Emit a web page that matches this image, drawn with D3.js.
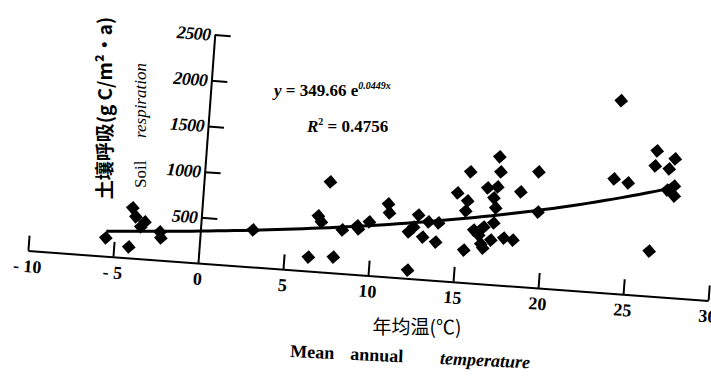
<!DOCTYPE html>
<html>
<head>
<meta charset="utf-8">
<script src="https://cdn.jsdelivr.net/npm/d3@7"></script>
<style>
	body {margin: 0; background: #fff;}
	svg {display: block;}
</style>
</head>
<body>
<div id="chart"></div>
<script>
// Mean annual temperature (°C) and soil respiration (g C/m²·a)
const temperature = [-5.5, -4.12, -4.05, -3.83, -3.28, -3.5, -2.36, -2.28, 3.08, 6.43, 7.89, 6.84, 7.04, 7.4, 8.3, 9.17,
	9.24, 9.85, 10.89, 10.99, 12.29, 12.7, 12.46, 13.31, 13.9, 12.18, 13.03, 13.81, 15.49, 14.89, 15.51, 15.44, 15.56,
	16.3, 16.46, 15.99, 16.56, 17.13, 16.59, 17.03, 17.78, 18.32, 17.2, 17.33, 19.55, 18.58, 16.63, 17.21, 17.03, 17.18,
	19.67, 24.06, 26.38, 26.33, 27.47, 27.16, 23.98, 24.82, 27.53, 27.57, 27.14, 26.34];
const respiration = [200, 120, 549, 453, 405, 348, 308, 243, 404, 153, 173, 609, 546, 989, 475, 531,
	499, 584, 796, 698, 90, 699, 564, 631, 628, 506, 462, 418, 353, 971, 891, 781, 1211,
	529, 432, 579, 620, 672, 390, 484, 516, 501, 1397, 1234, 1264, 1032, 1049, 1068, 945, 837,
	827, 2105, 1588, 1422, 1515, 1401, 1248, 1215, 1219, 1110, 1170, 490];

const xTicks = [-10, -5, 0, 5, 10, 15, 20, 25, 30];
const yTicks = [500, 1000, 1500, 2000, 2500];

// fitted curve y = a·e^(b·x), as printed on the chart
const fitA = 349.66;
const fitB = 0.0449;
const fitRange = [-5.5, 27.6];

const width = 711, height = 376;
const SERIF = "'Liberation Serif', 'Times New Roman', serif";
const CJK = "'Noto Sans CJK SC', sans-serif";
const TILT = 4.2; // the scanned page is slightly rotated

const svg = d3.select("#chart").append("svg")
	.attr("width", width)
	.attr("height", height)
	.attr("viewBox", `0 0 ${width} ${height}`);

const x = d3.scaleLinear().domain([-10, 30]).range([-170.5, 511.5]);
const y = d3.scaleLinear().domain([0, 2500]).range([0, -229]);

const g = svg.append("g")
	.attr("transform", `translate(198,263) rotate(${TILT})`);

// Axes
const xAxis = g.append("g")
	.call(d3.axisBottom(x)
		.tickValues(xTicks)
		.tickSizeInner(-15)
		.tickSizeOuter(0)
		.tickPadding(9)
		.tickFormat(d => d < 0 ? `- ${Math.abs(d)}` : d));

const yAxis = g.append("g")
	.call(d3.axisLeft(y)
		.tickValues(yTicks)
		.tickSizeInner(-16)
		.tickSizeOuter(0)
		.tickPadding(4)
		.tickFormat(d3.format("d")));

for (const ax of [xAxis, yAxis]) {
	ax.select(".domain").attr("stroke", "#000").attr("stroke-width", 2);
	ax.selectAll(".tick line").attr("stroke", "#000").attr("stroke-width", 2);
	ax.selectAll(".tick text")
		.attr("fill", "#000")
		.attr("font-family", SERIF)
		.attr("font-weight", "bold")
		.attr("font-size", "18px");
}
yAxis.selectAll(".tick text").attr("font-style", "italic").attr("letter-spacing", "-0.5px");
xAxis.selectAll(".tick").filter(d => d === 0).select("line").remove();

// Trend curve
const fitXs = d3.range(fitRange[0], fitRange[1], 0.5).concat([fitRange[1]]);
g.append("path")
	.datum(fitXs)
	.attr("fill", "none")
	.attr("stroke", "#000")
	.attr("stroke-width", 3)
	.attr("d", d3.line().x(d => x(d)).y(d => y(fitA * Math.exp(fitB * d))));

// Points
const points = temperature.map((t, i) => ({t, r: respiration[i]}));
g.selectAll("path.pt")
	.data(points)
	.join("path")
	.attr("class", "pt")
	.attr("d", d3.symbol(d3.symbolSquare, 95))
	.attr("transform", d => `translate(${x(d.t)},${y(d.r)}) rotate(45)`)
	.attr("fill", "#000");

// Equation
const eq = svg.append("text")
	.attr("x", 274)
	.attr("y", 96)
	.attr("font-family", SERIF)
	.attr("font-size", "17px")
	.attr("font-weight", "bold")
	.attr("fill", "#000");
eq.append("tspan").attr("font-style", "italic").text("y");
eq.append("tspan").text(" = 349.66 e");
eq.append("tspan").attr("dy", -7).attr("font-size", "10px").attr("font-style", "italic").text("0.0449x");

const r2 = svg.append("text")
	.attr("x", 307)
	.attr("y", 132)
	.attr("font-family", SERIF)
	.attr("font-size", "17px")
	.attr("font-weight", "bold")
	.attr("fill", "#000");
r2.append("tspan").attr("font-style", "italic").text("R");
r2.append("tspan").attr("dy", -7).attr("font-size", "10px").text("2");
r2.append("tspan").attr("dy", 7).text(" = 0.4756");

// Y titles
svg.append("text")
	.attr("transform", "translate(112,108) rotate(-90)")
	.attr("text-anchor", "middle")
	.attr("font-family", CJK)
	.attr("font-size", "19px")
	.attr("font-weight", "bold")
	.attr("fill", "#000")
	.text("土壤呼吸(g C/m²·a)");

svg.append("text")
	.attr("transform", "translate(146,188) rotate(-90)")
	.attr("font-family", SERIF)
	.attr("font-size", "17px")
	.attr("fill", "#000")
	.text("Soil");

svg.append("text")
	.attr("transform", "translate(146,138) rotate(-90)")
	.attr("font-family", SERIF)
	.attr("font-size", "17px")
	.attr("font-style", "italic")
	.attr("fill", "#000")
	.text("respiration");

// X titles
svg.append("text")
	.attr("x", 417)
	.attr("y", 334)
	.attr("text-anchor", "middle")
	.attr("font-family", CJK)
	.attr("font-size", "19px")
	.attr("fill", "#000")
	.text("年均温(℃)");

const enTitle = svg.append("g")
	.attr("transform", "translate(290,357) rotate(2.7)")
	.attr("font-family", SERIF)
	.attr("font-size", "18px")
	.attr("font-weight", "bold")
	.attr("fill", "#000");
enTitle.append("text").attr("x", 0).text("Mean");
enTitle.append("text").attr("x", 60).text("annual");
enTitle.append("text").attr("x", 150).attr("font-style", "italic").text("temperature");
</script>
</body>
</html>
